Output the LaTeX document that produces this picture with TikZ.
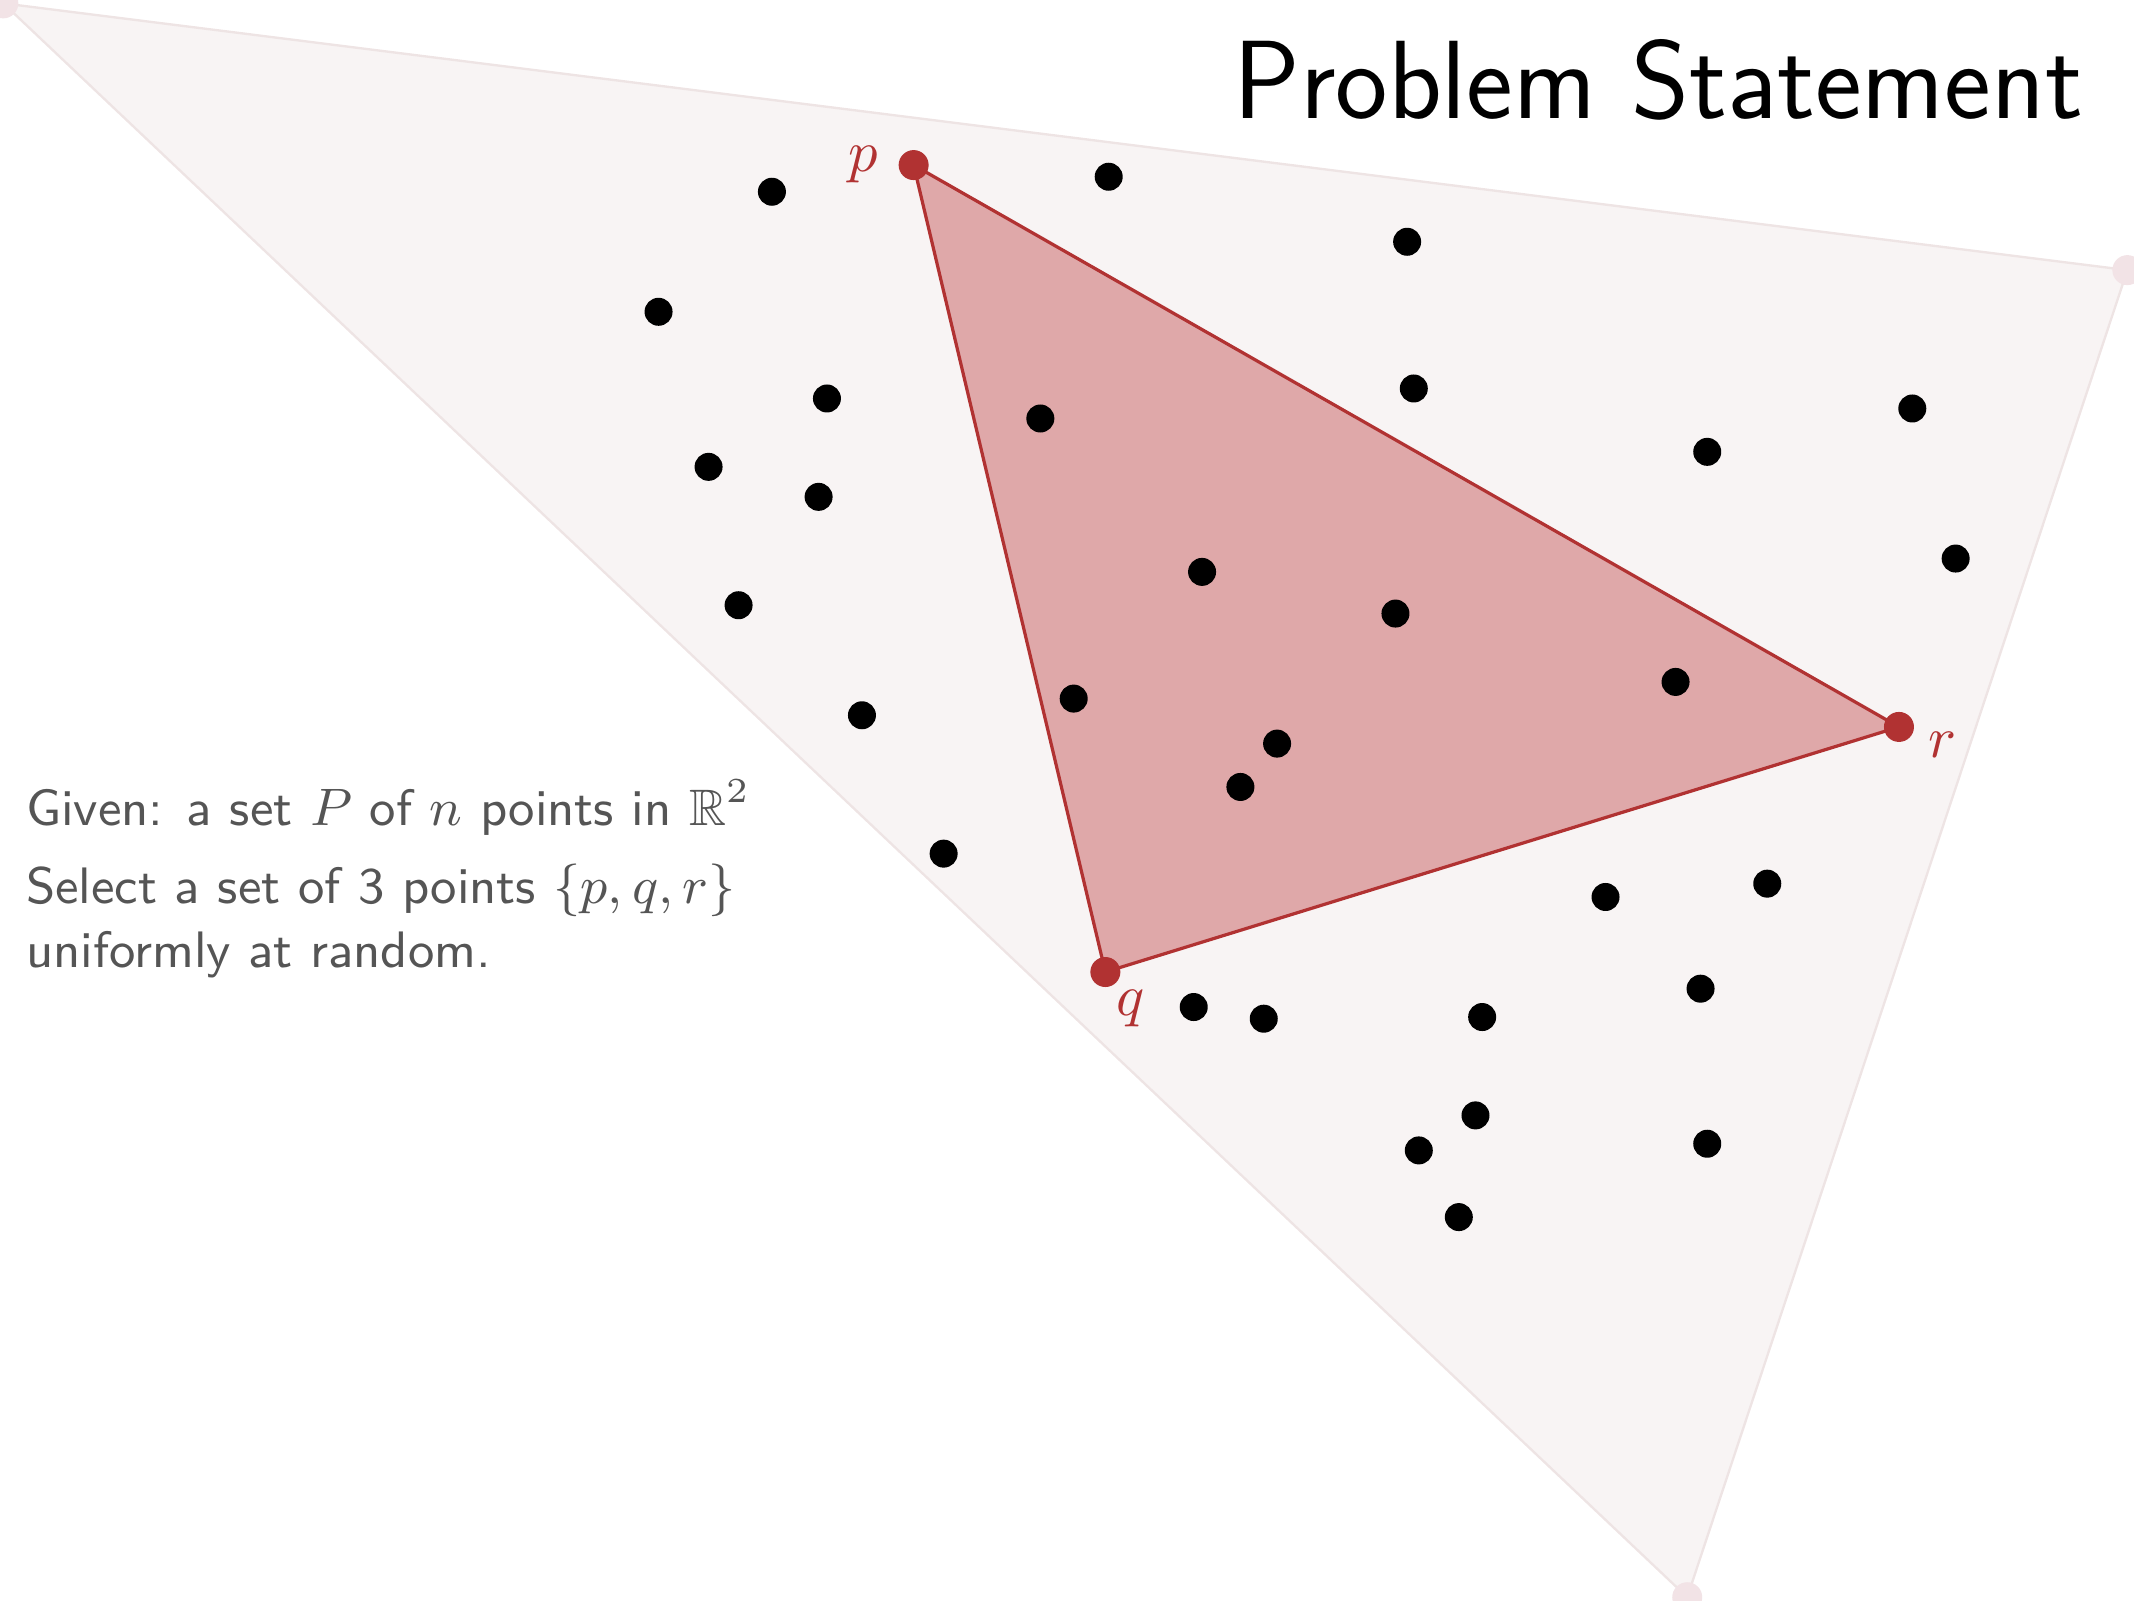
\documentclass[tikz,border=0pt]{standalone}
\usepackage{fontspec}
\usepackage{amssymb}
\usepackage{tikz}

\definecolor{hullfill}{HTML}{F8F4F4}
\definecolor{hullline}{HTML}{EEE4E4}
\definecolor{hulldot}{HTML}{F2E3E6}
\definecolor{trired}{HTML}{B13232}
\definecolor{trifill}{HTML}{DFA8A9}
\definecolor{bodygray}{HTML}{555555}

\tikzset{
  lbl/.style={text=trired, font=\fontsize{10}{12}\selectfont},
  body/.style={anchor=base west, inner sep=0pt, text=bodygray,
    font=\sffamily\fontsize{8.75}{10}\selectfont}
}

\begin{document}
\begin{tikzpicture}
  \useasboundingbox (0,0) rectangle (12.8,-9.6);
  % outer hull
  \coordinate (A) at (0.02,-0.02);
  \coordinate (B) at (12.76,-1.62);
  \coordinate (C) at (10.12,-9.58);
  \filldraw[fill=hullfill, draw=hullline, line width=0.4pt] (A)--(B)--(C)--cycle;
  \foreach \v in {A,B,C}
    \fill[hulldot] (\v) circle (0.09);
  % chosen triangle
  \coordinate (p) at (5.48,-0.99);
  \coordinate (q) at (6.63,-5.83);
  \coordinate (r) at (11.39,-4.36);
  \filldraw[fill=trifill, draw=trired, line width=0.55pt] (p)--(q)--(r)--cycle;
  % the point set
  \foreach \x/\y in {4.63/-1.15, 6.65/-1.06, 8.44/-1.45, 3.95/-1.87, 4.96/-2.39,
      6.24/-2.51, 8.48/-2.33, 11.47/-2.45, 10.24/-2.71, 4.25/-2.80, 4.91/-2.98,
      11.73/-3.35, 7.21/-3.43, 8.37/-3.68, 4.43/-3.63, 10.05/-4.09, 5.17/-4.29,
      6.44/-4.19, 7.66/-4.46, 7.44/-4.72, 5.66/-5.12, 10.60/-5.30, 9.63/-5.38,
      10.20/-5.93, 7.16/-6.04, 7.58/-6.11, 8.89/-6.10, 8.85/-6.69, 8.51/-6.90,
      10.24/-6.86, 8.75/-7.30}
    \fill (\x,\y) circle (0.084);
  \foreach \v in {p,q,r}
    \fill[trired] (\v) circle (0.09);
  \node[lbl] (lp) at (5.18,-0.99) {$p$};
  \node[lbl] (lq) at (6.78,-6.05) {$q$};
  \node[lbl] (lr) at (11.65,-4.47) {$r$};
  % text
  \node[anchor=base east, inner sep=0pt, font=\sffamily\fontsize{19}{22}\selectfont]
    (title) at (12.50,-0.71) {Problem Statement};
  \node[body] (given) at (0.15,-4.95) {Given: a set $P$ of $n$ points in $\mathbb{R}^2$};
  \node[body] (select) at (0.15,-5.42) {Select a set of 3 points $\{p,q,r\}$};
  \node[body] (unif) at (0.15,-5.80) {uniformly at random.};
\end{tikzpicture}
\end{document}
